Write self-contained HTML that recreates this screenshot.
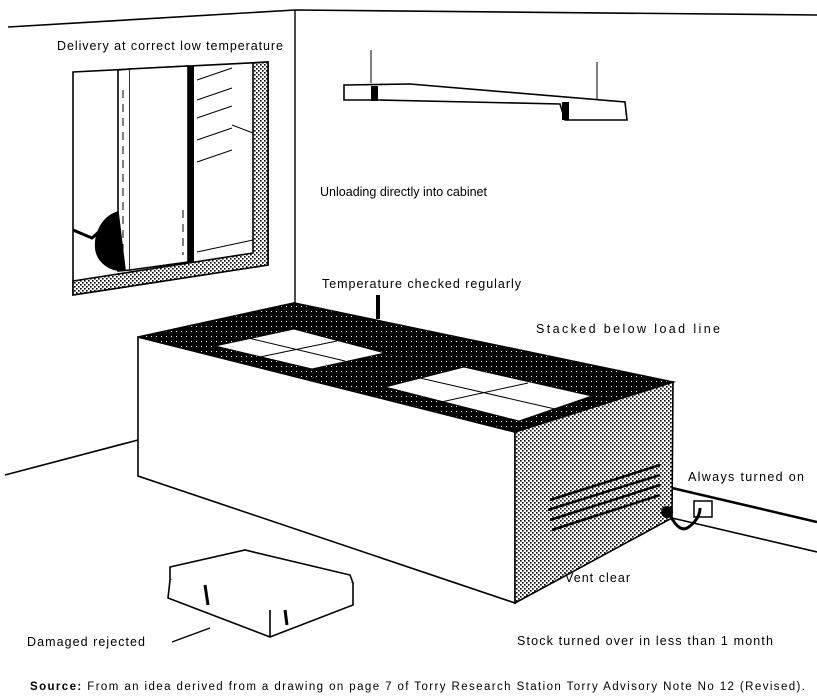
<!DOCTYPE html>
<html><head><meta charset="utf-8"><style>
html,body{margin:0;padding:0;background:#fff;}
svg{display:block;}
text{font-family:"Liberation Sans",sans-serif;font-size:12.5px;fill:#000;}
</style></head><body>
<svg width="817" height="696" viewBox="0 0 817 696" xmlns="http://www.w3.org/2000/svg">
<defs>
<pattern id="dots" width="4" height="4" patternUnits="userSpaceOnUse">
<rect width="4" height="4" fill="#fff"/><rect x="0" y="0" width="1.6" height="1.6" fill="#000"/><rect x="2" y="2" width="1.6" height="1.6" fill="#000"/>
</pattern>
<pattern id="dark" width="5" height="5" patternUnits="userSpaceOnUse">
<rect width="5" height="5" fill="#000"/><rect x="1" y="1" width="1" height="1" fill="#fff"/>
</pattern>
</defs>
<g stroke="#000" fill="none" stroke-width="1.6">
<path d="M8 27 L295 10 L817 15"/>
<path d="M295 10 L295 305" stroke-width="1.4"/>
<path d="M5 475 L138 440"/>
<path d="M672 488 L817 522" stroke-width="2.5"/>
<path d="M672 518 L817 552"/>
<!-- window -->
<path d="M73 72 L268 62 L268 265 L73 295 Z" fill="#fff"/>
<path d="M253 63 L268 62 L268 265 L73 295 L73 281 L253 253 Z" fill="url(#dots)"/>
<path d="M118 70 L130 69 L130 270 L118 271 Z" fill="#fff"/>
<path d="M130 69 L188 66 L188 262 L130 270" fill="#fff"/>
<rect x="188" y="66" width="6" height="196" fill="#000" stroke="none"/>
<path d="M197 80 L232 68 M197 100 L232 88 M197 118 L232 106 M197 140 L232 128 M197 162 L232 150 M232 125 L253 133 M197 252 L253 240" stroke-width="1"/>
<path d="M123 90 V260 M183 210 V255" stroke-width="1" stroke-dasharray="8 6"/>
<path d="M73 230 L92 238 L118 215" stroke-width="3"/>
<path d="M118 212 A30 34 0 0 0 96 250 A26 24 0 0 0 125 270 Z" fill="#000"/>
<!-- shelf -->
<path d="M371 50 V83 M597 62 V100" stroke-width="1"/>
<path d="M344 85 L410 84 L625 102 L627 120 L565 120 L560 104 L380 100 L344 100 Z" fill="#fff"/>
<rect x="371" y="86" width="7" height="15" fill="#000" stroke="none"/>
<rect x="562" y="102" width="7" height="18" fill="#000" stroke="none"/>
<!-- cabinet -->
<path d="M138 337 L515 432 L515 603 L138 476 Z" fill="#fff"/>
<path d="M515 432 L673 382 L672 518 L515 603 Z" fill="url(#dots)"/>
<path d="M138 337 L294 303 L673 382 L515 432 Z" fill="url(#dark)"/>
<path d="M215 346 L294 329 L385 353 L312 369 Z" fill="#fff" stroke-width="1"/>
<path d="M385 387 L464 367 L592 396 L519 421 Z" fill="#fff" stroke-width="1"/>
<path d="M248 338 L345 361 M255 358 L337 341 M420 378 L555 409 M432 404 L528 383" stroke-width="1"/>
<rect x="376" y="295" width="4" height="24" fill="#000" stroke="none"/>
<path d="M550 500 L660 465 M548 510 L660 475 M550 520 L660 485 M552 530 L660 495" stroke-width="2.5"/>
<rect x="694" y="501" width="18" height="16" fill="#fff" stroke-width="1.5"/>
<circle cx="667" cy="512" r="6" fill="#000" stroke="none"/>
<path d="M670 515 Q680 535 690 526 Q700 518 700 508" stroke-width="3"/>
<!-- damaged box -->
<path d="M170 567 L245 550 L350 575 L353 583 L270 610 L170 580 Z" fill="#fff"/>
<path d="M170 580 L168 598 L270 637 L353 605 L353 583 M270 610 L270 637" fill="#fff"/>
<path d="M205 585 L208 605 M285 610 L287 625" stroke-width="3"/>
<path d="M172 642 L210 628" stroke-width="1.4"/>
</g>
<text x="57" y="50" textLength="226" lengthAdjust="spacing">Delivery at correct low temperature</text>
<text x="320" y="196" textLength="167" lengthAdjust="spacing">Unloading directly into cabinet</text>
<text x="322" y="288" textLength="199" lengthAdjust="spacing">Temperature checked regularly</text>
<text x="536" y="333" textLength="184" lengthAdjust="spacing">Stacked below load line</text>
<text x="688" y="481" textLength="116" lengthAdjust="spacing">Always turned on</text>
<text x="565" y="582" textLength="65" lengthAdjust="spacing">Vent clear</text>
<text x="27" y="646" textLength="118" lengthAdjust="spacing">Damaged rejected</text>
<text x="517" y="645" textLength="256" lengthAdjust="spacing">Stock turned over in less than 1 month</text>
<text x="30" y="690" style="font-size:11.5px" textLength="775" lengthAdjust="spacing"><tspan font-weight="bold">Source:</tspan>    From an idea derived from a drawing on page 7 of Torry Research Station Torry Advisory Note No 12 (Revised).</text>
</svg>
</body></html>
